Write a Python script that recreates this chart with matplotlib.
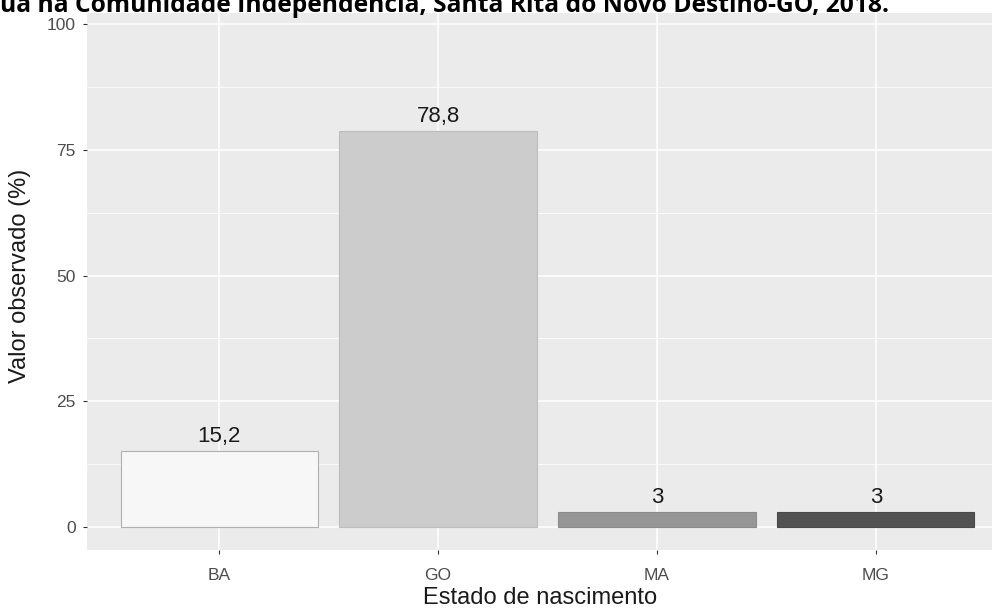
import numpy as np
import matplotlib
matplotlib.use('Agg')
import matplotlib.pyplot as plt
from matplotlib.ticker import MultipleLocator

# data
estados = ['BA', 'GO', 'MA', 'MG']
valores = [15.2, 78.8, 3.0, 3.0]
rotulos = ['15,2', '78,8', '3', '3']
cores = ['#f7f7f7', '#cccccc', '#969696', '#525252']
bordas = ['#b0b0b0', '#bdbdbd', '#8c8c8c', '#4a4a4a']
titulo = 'ua na Comunidade Independência, Santa Rita do Novo Destino-GO, 2018.'

plt.rcParams['font.family'] = ['Liberation Sans', 'DejaVu Sans']

fig = plt.figure(figsize=(9.92, 6.10), dpi=100)
ax = fig.add_axes([87/992, 60/610, 1 - 87/992, (550 - 13)/610])
ax.set_facecolor('#ebebeb')

x = np.arange(1, len(estados) + 1)
ax.bar(x, valores, width=0.9, color=cores, edgecolor=bordas, linewidth=0.8, zorder=3)
for xi, v, r in zip(x, valores, rotulos):
    ax.annotate(r, (xi, v), xytext=(0, 2.5), textcoords='offset points',
                ha='center', va='bottom', fontsize=16, color='#1a1a1a', zorder=4)

ax.set_xlim(0.397, 4.53)
ax.set_ylim(-4.57, 102.2)
ax.set_xticks(x)
ax.set_xticklabels(estados)
ax.set_yticks([0, 25, 50, 75, 100])
ax.yaxis.set_minor_locator(MultipleLocator(12.5))
ax.grid(which='major', color='white', linewidth=1.1, zorder=0)
ax.grid(which='minor', axis='y', color='white', linewidth=0.55, zorder=0)
ax.set_axisbelow(True)
for s in ax.spines.values():
    s.set_visible(False)
ax.tick_params(which='major', length=3, color='#333333', labelsize=12.5,
               labelcolor='#4d4d4d')
ax.tick_params(axis='y', pad=5)
ax.tick_params(axis='x', pad=10)
ax.tick_params(which='minor', length=0)

fig.text(540/992, 1 - 598/610, 'Estado de nascimento', ha='center', va='center',
         fontsize=17, color='#1a1a1a')
fig.text(20/992, 1 - 276/610, 'Valor observado (%)', ha='center', va='center',
         rotation=90, fontsize=17, color='#1a1a1a')

# cut-off title at the top
t = fig.text(0, 1 - 12/610, titulo, ha='left', va='baseline', fontsize=17,
             fontweight='bold', family=['Open Sans', 'DejaVu Sans'], color='black')
fig.canvas.draw()
w = t.get_window_extent().width
t.set_fontsize(17 * 887 / w)

fig.savefig('out.png', dpi=100)
